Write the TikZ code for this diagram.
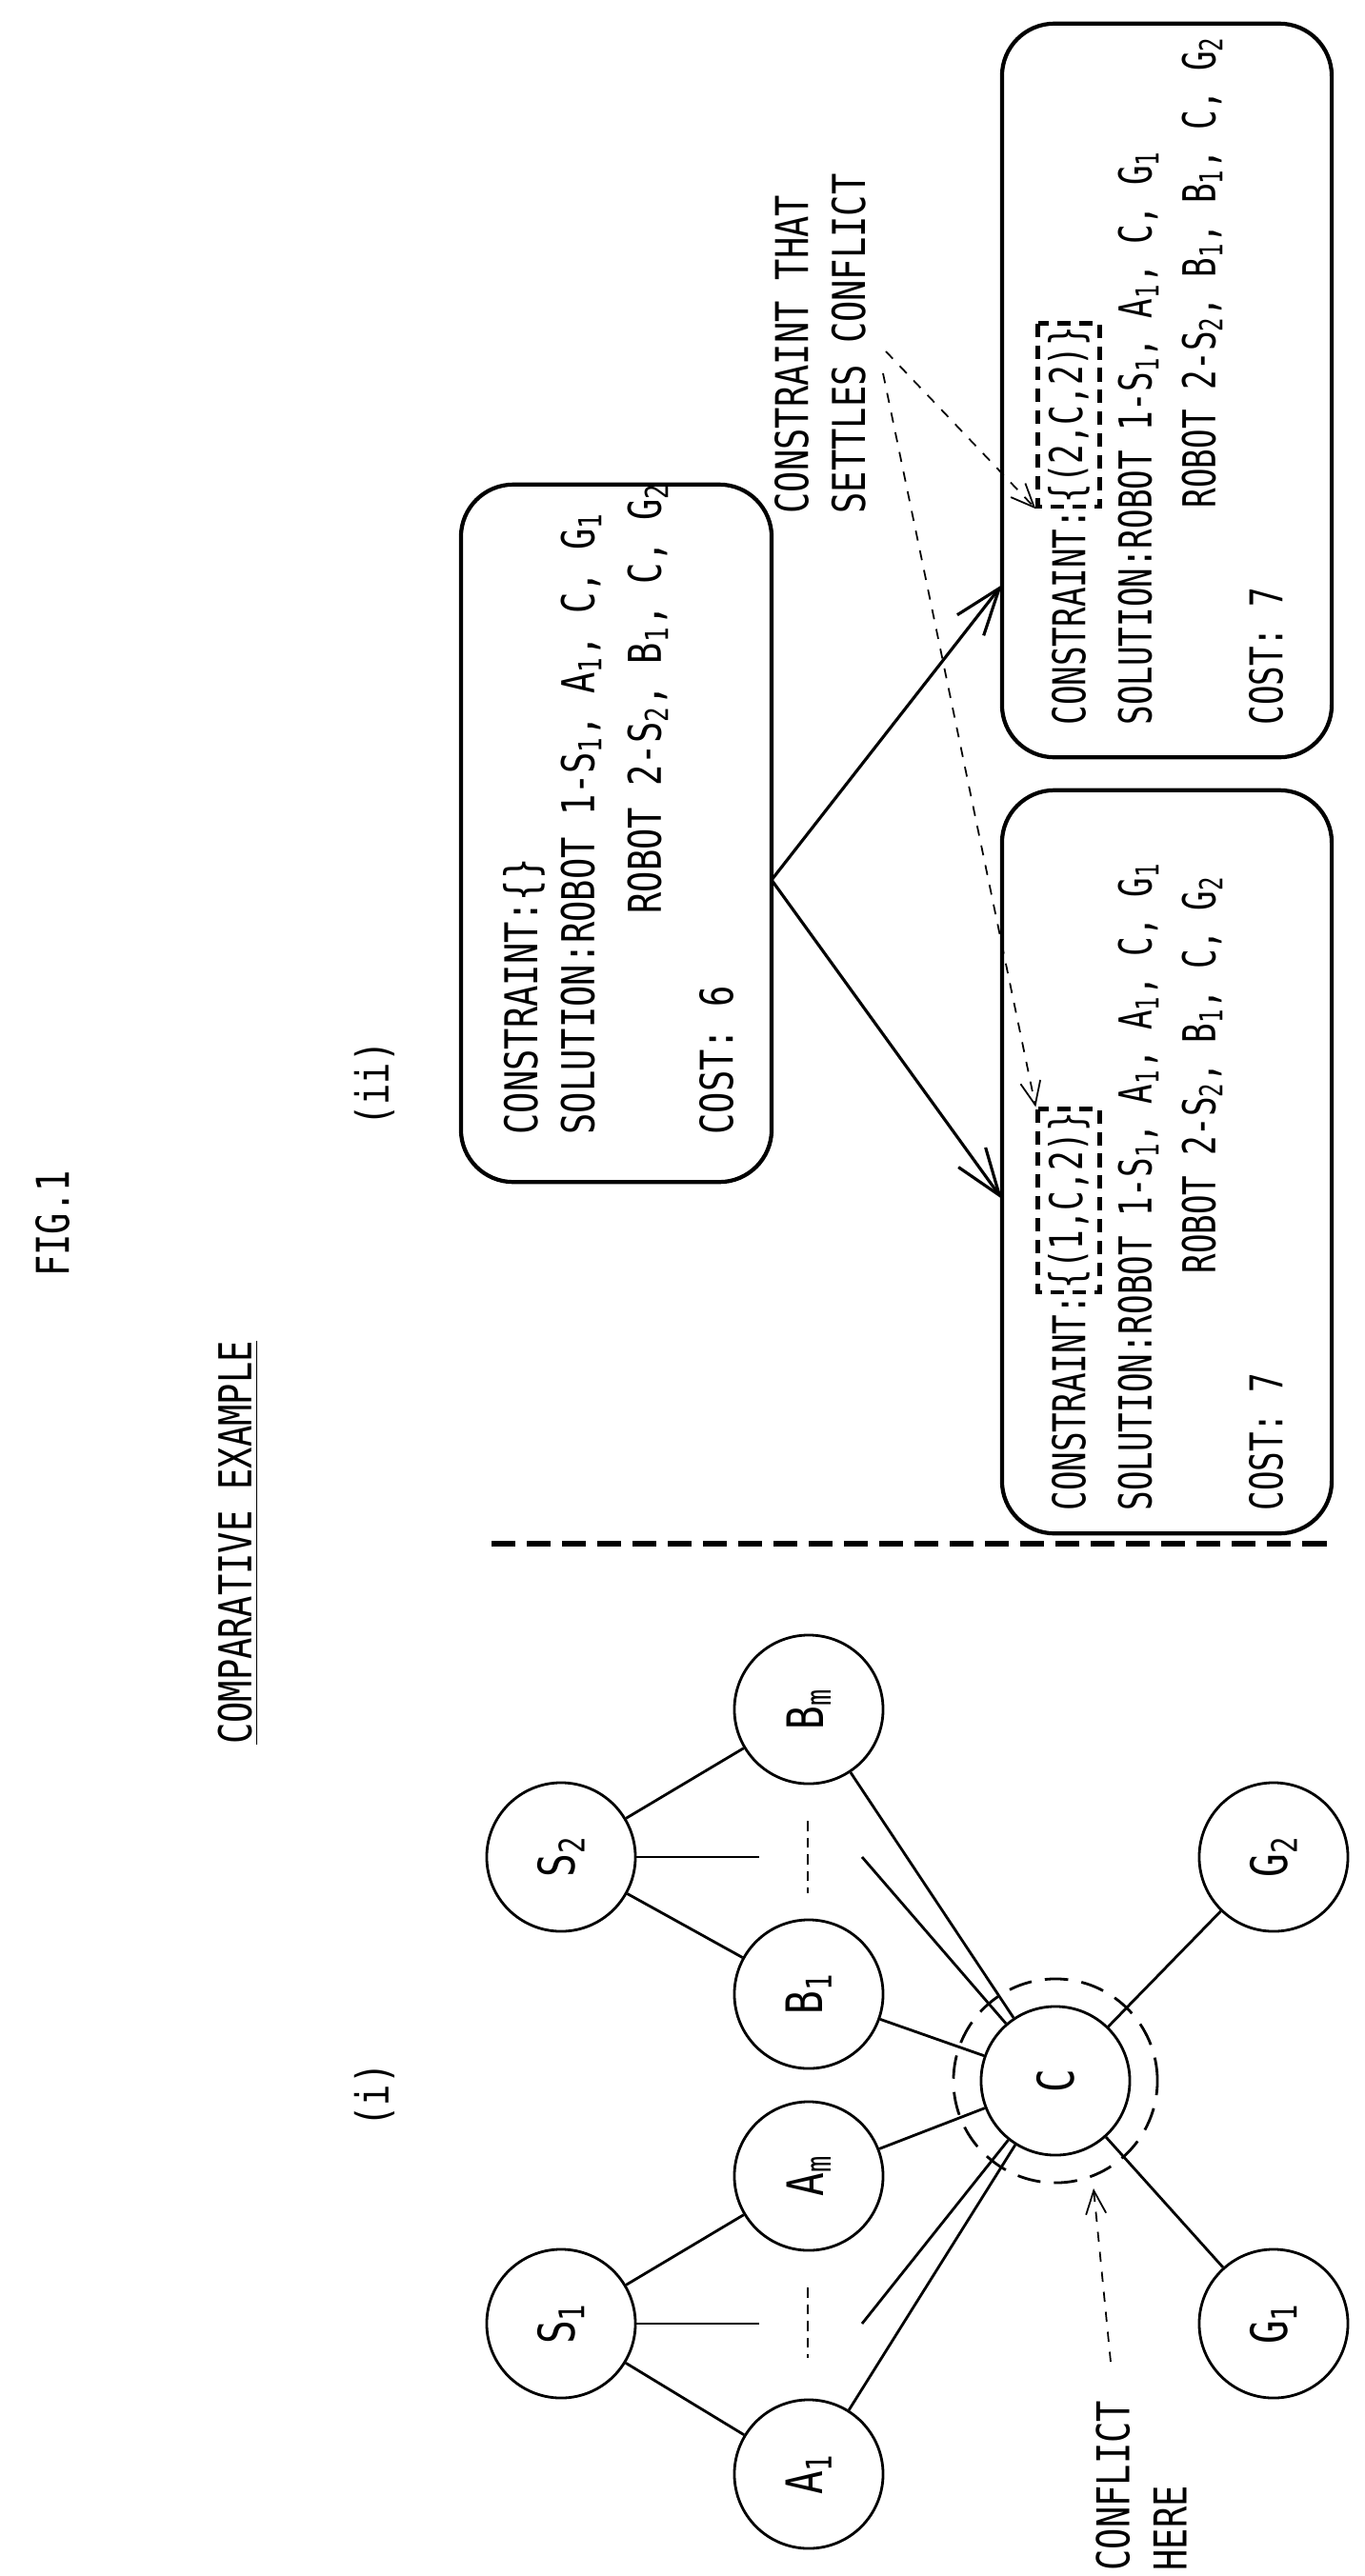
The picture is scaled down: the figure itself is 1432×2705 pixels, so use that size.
\documentclass[tikz,border=0pt]{standalone}
\usepackage{fontspec}
\usepackage{graphicx}
\setmonofont{DejaVu Sans Mono}
\usetikzlibrary{arrows.meta}

\newcommand\nar[1]{\scalebox{0.78}[1]{#1}}
\newcommand\nab[1]{\scalebox{0.72}[1]{#1}}
\newcommand\sub[1]{\textsubscript{#1}}

\tikzset{
  txt/.style={rotate=90, anchor=west, inner sep=0pt,
    font=\ttfamily\fontsize{13.5}{17}\selectfont},
  vert/.style={circle, draw, line width=0.8pt, minimum size=1.56cm, inner sep=0pt,
    rotate=90, font=\ttfamily\fontsize{15}{17}\selectfont},
  box/.style={draw, rounded corners=0.55cm, line width=1.2pt, inner sep=0pt},
  cstr/.style={txt, draw, line width=1.3pt, dash pattern=on 4pt off 2.5pt,
    inner xsep=1pt, inner ysep=3pt},
  edge/.style={line width=0.8pt},
  note/.style={dashed, line width=0.5pt, -{Straight Barb[length=7pt,width=6pt]}},
  tree/.style={line width=0.9pt, -{Straight Barb[length=14pt,width=10pt]}}
}

\begin{document}
\begin{tikzpicture}[x=0.01cm, y=-0.01cm]
  \useasboundingbox (0,0) rectangle (1432,2705);

  % headings
  \node[txt, anchor=center] (fig) at (55,1285) {\nar{FIG.1}};
  \node[txt, anchor=center] (title) at (250,1620) {\nar{\underline{COMPARATIVE EXAMPLE}}};
  \node[txt, anchor=center] (partii) at (393,1138) {\nar{(ii)}};
  \node[txt, anchor=center] (parti) at (393,2200) {\nar{(i)}};

  \draw[line width=1.5pt, dash pattern=on 0.25cm off 0.12cm] (516,1621) -- (1397,1621);

  % (i) graph
  \node[vert] (s1) at (589,2440) {\nar{S\sub{1}}};
  \node[vert] (s2) at (589,1950) {\nar{S\sub{2}}};
  \node[vert] (a1) at (849,2598) {\nar{A\sub{1}}};
  \node[vert] (am) at (849,2285) {\nar{A\sub{m}}};
  \node[vert] (b1) at (849,2094) {\nar{B\sub{1}}};
  \node[vert] (bm) at (849,1795) {\nar{B\sub{m}}};
  \node[vert] (c)  at (1108,2185) {\nar{C}};
  \node[vert] (g1) at (1337,2440) {\nar{G\sub{1}}};
  \node[vert] (g2) at (1337,1950) {\nar{G\sub{2}}};
  \draw[dashed, line width=0.8pt, dash pattern=on 7pt off 4pt] (c) circle (1.07cm);

  \coordinate (s1end) at (797,2440);
  \coordinate (s2end) at (797,1950);
  \coordinate (amore) at (905,2440);
  \coordinate (bmore) at (905,1950);
  \draw[edge] (s1) -- (a1);
  \draw[edge] (s1) -- (am);
  \draw[edge] (s1) -- (s1end);
  \draw[edge] (s2) -- (b1);
  \draw[edge] (s2) -- (bm);
  \draw[edge] (s2) -- (s2end);
  \draw[edge, dash pattern=on 3pt off 2pt] (848,2402) -- (848,2476);
  \draw[edge, dash pattern=on 3pt off 2pt] (848,1912) -- (848,1988);
  \foreach \v in {a1,am,b1,bm,amore,bmore,g1,g2}
    \draw[edge] (c) -- (\v);

  \node[txt, align=left] (conflict) at (1198,2700) {\nar{CONFLICT}\\\nar{HERE}};
  \coordinate (cfrom) at (1166,2480);
  \coordinate (cto) at (1148,2298);
  \draw[note] (cfrom) -- (cto);

  % (ii) constraint tree
  \node[box, minimum width=3.26cm, minimum height=7.32cm] (root) at (647,875) {};
  \node[txt] (r1) at (550,1192) {\nar{CONSTRAINT:\{\}}};
  \node[txt] (r2) at (610,1192) {\nar{SOLUTION:ROBOT 1-S\sub{1}, A\sub{1}, C, G\sub{1}}};
  \node[txt] (r3) at (680,960) {\nar{ROBOT 2-S\sub{2}, B\sub{1}, C, G\sub{2}}};
  \node[txt] (r4) at (752,1192) {\nar{COST: 6}};

  \node[box, minimum width=3.46cm, minimum height=7.8cm] (left) at (1225,1220) {};
  \node[txt] (l1) at (1122,1587) {\nab{CONSTRAINT:}};
  \node[cstr] (l1c) at (l1.east) {\nab{\{(1,C,2)\}}};
  \node[txt] (l2) at (1195,1587) {\nab{SOLUTION:ROBOT 1-S\sub{1}, A\sub{1}, A\sub{1}, C, G\sub{1}}};
  \node[txt] (l3) at (1262,1338) {\nab{ROBOT 2-S\sub{2}, B\sub{1}, C, G\sub{2}}};
  \node[txt] (l4) at (1329,1587) {\nab{COST: 7}};

  \node[box, minimum width=3.46cm, minimum height=7.7cm] (right) at (1225,410) {};
  \node[txt] (u1) at (1122,762) {\nab{CONSTRAINT:}};
  \node[cstr] (u1c) at (u1.east) {\nab{\{(2,C,2)\}}};
  \node[txt] (u2) at (1195,762) {\nab{SOLUTION:ROBOT 1-S\sub{1}, A\sub{1}, C, G\sub{1}}};
  \node[txt] (u3) at (1262,534) {\nab{ROBOT 2-S\sub{2}, B\sub{1}, B\sub{1}, C, G\sub{2}}};
  \node[txt] (u4) at (1329,762) {\nab{COST: 7}};

  \coordinate (fork) at (810,924);
  \coordinate (ltip) at (1052,1259);
  \coordinate (utip) at (1052,614);
  \draw[tree] (fork) -- (ltip);
  \draw[tree] (fork) -- (utip);

  \node[txt, align=left] (settle) at (861,540) {\nar{CONSTRAINT THAT}\\\nar{SETTLES CONFLICT}};
  \coordinate (nfrom1) at (930,369);
  \coordinate (nfrom2) at (927,392);
  \draw[note] (nfrom1) -- (u1c.north west);
  \draw[note] (nfrom2) -- (l1c.north east);
\end{tikzpicture}
\end{document}
